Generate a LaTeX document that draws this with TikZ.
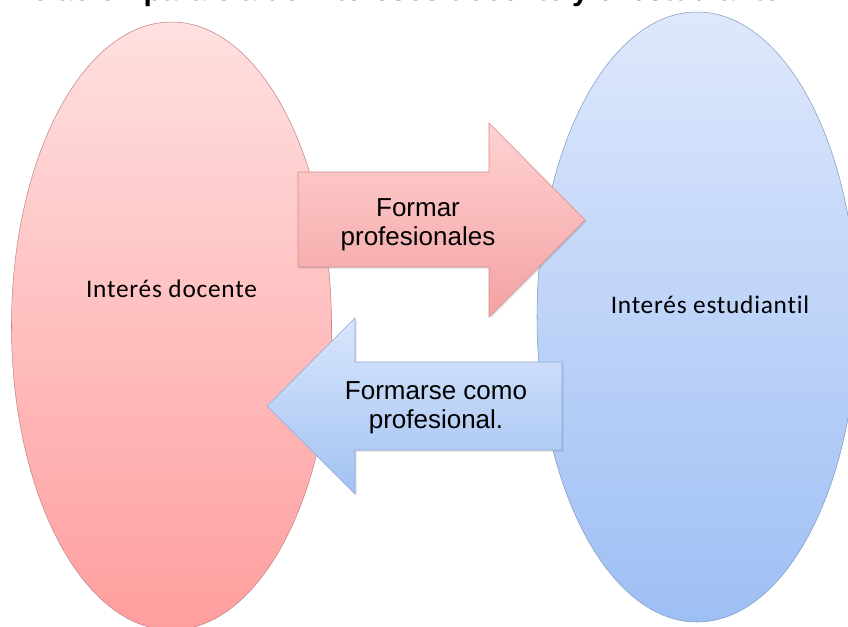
\documentclass[tikz,border=0pt]{standalone}
\usepackage{fontspec}
\setmainfont{Liberation Sans}
\newfontfamily\labelfont[LetterSpace=3,Ligatures=NoCommon]{Carlito}
\usetikzlibrary{shadows}
\definecolor{pinktop}{HTML}{FFE0E0}
\definecolor{pinkbot}{HTML}{FF9E9E}
\definecolor{pinkline}{HTML}{C08585}
\definecolor{bluetop}{HTML}{DEE8FC}
\definecolor{bluebot}{HTML}{9EBFF4}
\definecolor{blueline}{HTML}{7F9CC2}
\definecolor{redtop}{HTML}{FFD2D2}
\definecolor{redbot}{HTML}{F4A2A2}
\definecolor{redline}{HTML}{D38C8C}
\definecolor{lbtop}{HTML}{D9E6FB}
\definecolor{lbbot}{HTML}{A2C2F3}
\definecolor{lbline}{HTML}{8DA9D6}

\begin{document}
\begin{tikzpicture}[x=0.75pt,y=-0.75pt,
		arrowtext/.style={anchor=north,align=center,inner sep=0,font=\fontsize{19.5}{21.4}\selectfont},
		bubbletext/.style={anchor=base,inner sep=0,font=\labelfont\fontsize{19}{22}\selectfont},
		shade/.style={drop shadow={opacity=0.25,shadow xshift=1.2pt,shadow yshift=-1.2pt}}]
		\useasboundingbox (0,0) rectangle (848,626);
		\node (T) [anchor=base west,inner sep=0,font=\bfseries\fontsize{22.5}{27}\selectfont] at (10,0) {Relación paralela de intereses docente y el estudiante};
		% the two interests
		\draw[pinkline,top color=pinktop,bottom color=pinkbot] (171.5,326) ellipse [x radius=160,y radius=304];
		\draw[blueline,top color=bluetop,bottom color=bluebot] (697,317) ellipse [x radius=160,y radius=305];
		\node (D) [bubbletext] at (171.5,297) {Interés docente};
		\node (E) [bubbletext] at (710,313) {Interés estudiantil};
		% arrows between them
		\path[shade,draw=redline,top color=redtop,bottom color=redbot] (298,172) -- (489,172) -- (489,123) -- (585,220) -- (489,317) -- (489,267) -- (298,267) -- cycle;
		\path[shade,draw=lbline,top color=lbtop,bottom color=lbbot] (562,362) -- (355,362) -- (355,318) -- (267,406) -- (355,494) -- (355,450) -- (562,450) -- cycle;
		\node (F) [arrowtext] at (418,198.4) {Formar\\profesionales};
		\node (G) [arrowtext] at (436,381.4) {Formarse como\\profesional.};
		\end{tikzpicture}
\end{document}
